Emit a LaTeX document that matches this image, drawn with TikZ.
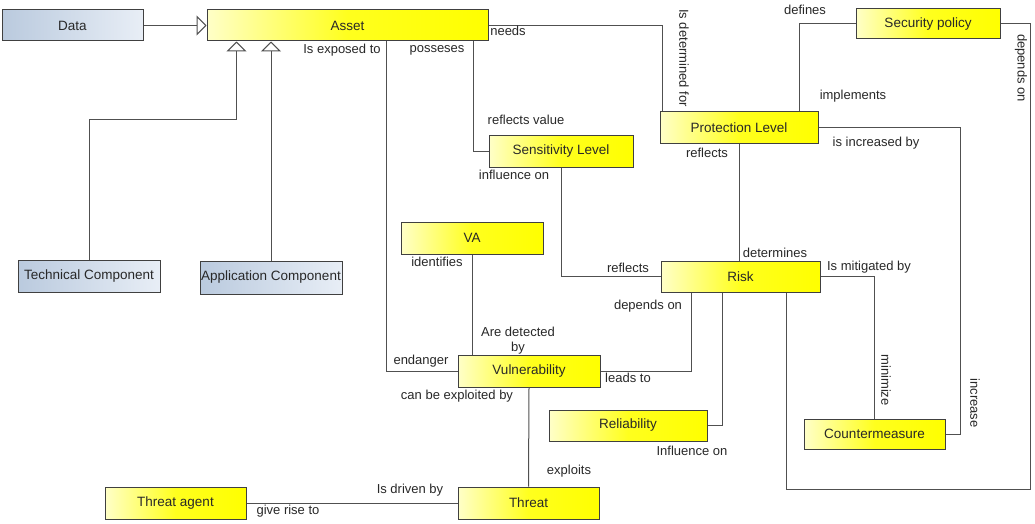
\documentclass[tikz,border=0pt]{standalone}
\usepackage{fontspec}
\setmainfont{Liberation Sans}
\usetikzlibrary{arrows.meta}
\definecolor{ylight}{RGB}{255,255,200}
\definecolor{bdark}{RGB}{186,202,222}
\definecolor{blight}{RGB}{232,238,246}
\definecolor{lin}{RGB}{80,80,80}
\definecolor{bord}{RGB}{64,64,64}
\definecolor{txt}{RGB}{40,40,40}
\tikzset{
  ybox/.style={draw=bord, line width=1pt, left color=ylight, right color=yellow, middle color=yellow!85!ylight, inner sep=0pt, text=txt, font=\fontsize{13.5}{15}\selectfont},
  bbox/.style={draw=bord, line width=1pt, left color=bdark, right color=blight, inner sep=0pt, text=txt, font=\fontsize{13.5}{15}\selectfont},
  conn/.style={draw=lin, line width=1pt},
  gen/.style={conn, -{Triangle[open, length=10pt, width=20pt, fill=white]}},
  lbl/.style={text=txt, font=\fontsize{13}{15}\selectfont, inner sep=0pt, align=center},
}
\begin{document}
\begin{tikzpicture}[x=1pt,y=-1pt]
\useasboundingbox[fill=white] (0,0) rectangle (1035,524);
% nodes
\node[bbox, minimum width=141, minimum height=31] (data) at (72.5,25.5) {Data};
\node[ybox, minimum width=281, minimum height=31] (asset) at (347.5,25.5) {Asset};
\node[ybox, minimum width=144, minimum height=30] (secpol) at (928,24) {Security policy};
\node[ybox, minimum width=158, minimum height=31] (prot) at (739,127.5) {Protection Level};
\node[ybox, minimum width=144, minimum height=32] (sens) at (561,151) {Sensitivity Level};
\node[ybox, minimum width=142, minimum height=32] (va) at (472,238) {VA};
\node[ybox, minimum width=159, minimum height=31] (risk) at (740.5,276.5) {Risk};
\node[bbox, minimum width=142, minimum height=32] (tech) at (89,276) {Technical Component};
\node[bbox, minimum width=142, minimum height=33] (app) at (271,277.5) {Application Component};
\node[ybox, minimum width=142, minimum height=32] (vuln) at (529,371) {Vulnerability};
\node[ybox, minimum width=158, minimum height=31] (rel) at (628,425.5) {Reliability};
\node[ybox, minimum width=141, minimum height=30] (cm) at (874.5,434) {Countermeasure};
\node[ybox, minimum width=141, minimum height=32] (ta) at (175.5,503) {Threat agent};
\node[ybox, minimum width=141, minimum height=32] (threat) at (528.5,503) {Threat};
% connectors
\draw[gen] (data) -- (asset);
\draw[gen] (tech.north) |- ([xshift=30,yshift=-78]asset.south west) -- ([xshift=30]asset.south west);
\draw[gen] (app.north) -- (app.north |- asset.south);
\draw[conn] ([xshift=180]asset.south west) |- (vuln.west);
\draw[conn] ([xshift=267]asset.south west) |- (sens.west);
\draw[conn] (asset.east) -| ([xshift=3]prot.north west);
\draw[conn] (secpol.west) -| ([xshift=140]prot.north west);
\draw[conn] (secpol.east) -- ++(30,0) -- ++(0,465) -| ([xshift=126]risk.south west);
\draw[conn] (prot.east) -- ++(142,0) |- (cm.east);
\draw[conn] (prot.south) -- (prot.south |- risk.north);
\draw[conn] (sens.south) |- (risk.west);
\draw[conn] (va.south) -- (va.south |- vuln.north);
\draw[conn] ([xshift=31]risk.south west) |- (vuln.east);
\draw[conn] ([xshift=62]risk.south west) |- (rel.east);
\draw[conn] (risk.east) -| (cm.north);
\draw[conn] (vuln.south) -- (threat.north);
\draw[conn] (ta) -- (threat);
% labels
\node[lbl] (l1) at (342,50) {Is exposed to};
\node[lbl] (l2) at (437,50) {posseses};
\node[lbl] (l3) at (508,31) {needs};
\node[lbl, rotate=-90] (l4) at (684,58) {Is determined for};
\node[lbl] (l5) at (526,120) {reflects value};
\node[lbl] (l6) at (805,10) {defines};
\node[lbl] (l7) at (853,96) {implements};
\node[lbl, rotate=-90] (l8) at (1021,68) {depends on};
\node[lbl] (l9) at (876,143) {is increased by};
\node[lbl] (l10) at (707,153) {reflects};
\node[lbl] (l11) at (514,175) {influence on};
\node[lbl] (l12) at (775,253) {determines};
\node[lbl] (l13) at (437,262) {identifies};
\node[lbl] (l14) at (628,268) {reflects};
\node[lbl] (l15) at (869,267) {Is mitigated by};
\node[lbl] (l16) at (648,306) {depends on};
\node[lbl] (l17) at (518,332) {Are detected};
\node[lbl] (l17b) at (518,348) {by};
\node[lbl] (l18) at (421,361) {endanger};
\node[lbl] (l19) at (628,378) {leads to};
\node[lbl] (l20) at (457,396) {can be exploited by};
\node[lbl, rotate=-90] (l21) at (886,380) {minimize};
\node[lbl, rotate=-90] (l22) at (975,403) {increase};
\node[lbl] (l23) at (692,451) {Influence on};
\node[lbl] (l24) at (569,471) {exploits};
\node[lbl] (l25) at (410,490) {Is driven by};
\node[lbl] (l26) at (288,511) {give rise to};
\end{tikzpicture}
\end{document}
